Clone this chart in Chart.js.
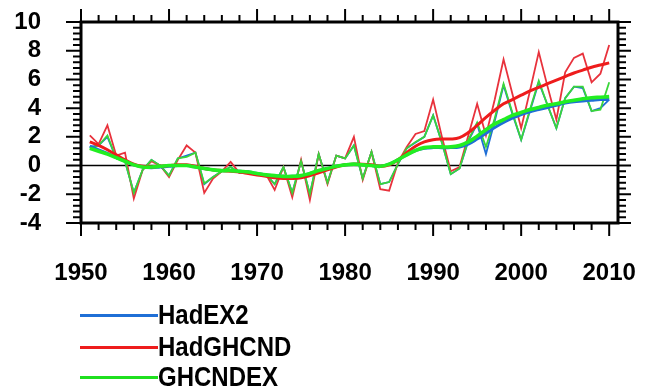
<!DOCTYPE html>
<html>
<head>
<meta charset="utf-8">
<script src="https://cdn.jsdelivr.net/npm/chart.js@4.4.1/dist/chart.umd.min.js"></script>
<style>
  html, body { margin: 0; padding: 0; background: #fff; }
  #wrap { position: relative; width: 658px; height: 389px; overflow: hidden; }
  #legend { position: absolute; left: 80px; top: 300px; font: bold 24px 'Liberation Sans', Arial, sans-serif; color: #000; }
  .item { position: absolute; left: 0; height: 30px; white-space: nowrap; }
  .item .swatch { position: absolute; left: 0; width: 78px; height: 2.5px; }
  .item .name { position: absolute; left: 78px; top: 0; line-height: 30px; transform: scaleY(1.15); transform-origin: left center; }
</style>
</head>
<body>
<div id="wrap">
  <canvas id="chart" width="658" height="389"></canvas>
  <div id="legend"></div>
</div>
<script>
const years = [1951, 1952, 1953, 1954, 1955, 1956, 1957, 1958, 1959, 1960,
               1961, 1962, 1963, 1964, 1965, 1966, 1967, 1968, 1969, 1970,
               1971, 1972, 1973, 1974, 1975, 1976, 1977, 1978, 1979, 1980,
               1981, 1982, 1983, 1984, 1985, 1986, 1987, 1988, 1989, 1990,
               1991, 1992, 1993, 1994, 1995, 1996, 1997, 1998, 1999, 2000,
               2001, 2002, 2003, 2004, 2005, 2006, 2007, 2008, 2009, 2010];

const hadex2 = [1.3, 1.4, 2.0, 0.5, 0.3, -1.9, -0.3, 0.4, 0.0, -0.7,
                0.5, 0.7, 0.9, -1.3, -0.8, -0.4, -0.1, -0.5, -0.4, -0.6,
                -0.6, -1.3, -0.1, -1.9, 0.3, -2.0, 0.8, -1.2, 0.7, 0.5,
                1.4, -0.9, 0.95, -1.3, -1.15, 0.1, 1.2, 1.6, 2.0, 3.5,
                1.6, -0.6, -0.2, 1.7, 2.9, 0.8, 3.1, 5.6, 3.6, 1.8,
                3.8, 5.8, 4.2, 2.6, 4.7, 5.5, 5.4, 3.8, 4.0, 4.6];

const hadghcnd = [2.1, 1.5, 2.8, 0.7, 0.9, -2.3, -0.3, 0.3, 0.0, -0.8,
                  0.4, 1.4, 0.9, -1.9, -0.9, -0.4, 0.25, -0.5, -0.5, -0.6,
                  -0.6, -1.7, -0.1, -2.2, 0.4, -2.4, 0.8, -1.3, 0.7, 0.5,
                  2.0, -1.0, 0.95, -1.65, -1.75, 0.2, 1.3, 2.2, 2.4, 4.6,
                  2.0, -0.4, -0.1, 2.1, 4.3, 2.1, 4.6, 7.4, 5.0, 2.6,
                  5.2, 7.9, 5.5, 3.2, 6.5, 7.5, 7.8, 5.8, 6.4, 8.4];

const ghcndex = [1.2, 1.4, 2.1, 0.5, 0.3, -1.9, -0.3, 0.4, 0.0, -0.7,
                 0.5, 0.6, 0.9, -1.25, -0.8, -0.4, -0.1, -0.5, -0.4, -0.6,
                 -0.6, -1.3, -0.1, -1.9, 0.3, -2.0, 0.8, -1.2, 0.7, 0.5,
                 1.4, -0.9, 0.95, -1.3, -1.15, 0.1, 1.2, 1.65, 2.0, 3.5,
                 1.6, -0.6, -0.2, 1.8, 3.0, 1.3, 3.3, 5.7, 3.7, 1.8,
                 3.9, 5.9, 4.2, 2.6, 4.7, 5.5, 5.5, 3.8, 3.9, 5.8];

// smoothed curves
const hadex2Smooth = [1.35, 1.1, 0.85, 0.55, 0.3, 0.05, -0.1, -0.15, -0.1, -0.05,
                      0.0, 0.0, -0.1, -0.2, -0.3, -0.35, -0.35, -0.4, -0.45, -0.55,
                      -0.65, -0.7, -0.75, -0.75, -0.7, -0.55, -0.35, -0.2, -0.05, 0.05,
                      0.1, 0.05, 0.0, -0.05, 0.1, 0.4, 0.75, 1.05, 1.2, 1.25,
                      1.25, 1.25, 1.3, 1.5, 1.85, 2.25, 2.65, 3.0, 3.3, 3.55,
                      3.75, 3.9, 4.05, 4.2, 4.35, 4.45, 4.5, 4.55, 4.6, 4.6];

const hadghcndSmooth = [1.65, 1.4, 1.1, 0.75, 0.4, 0.1, -0.05, -0.1, -0.05, 0.0,
                        0.05, 0.05, -0.05, -0.2, -0.3, -0.35, -0.4, -0.45, -0.55, -0.65,
                        -0.75, -0.85, -0.9, -0.9, -0.85, -0.7, -0.5, -0.3, -0.1, 0.05,
                        0.1, 0.1, 0.05, -0.05, 0.05, 0.4, 0.9, 1.35, 1.65, 1.8,
                        1.85, 1.85, 1.95, 2.3, 2.8, 3.35, 3.85, 4.3, 4.6, 4.9,
                        5.2, 5.45, 5.7, 5.95, 6.2, 6.45, 6.65, 6.85, 7.0, 7.15];

const ghcndexSmooth = [1.2, 1.0, 0.8, 0.55, 0.3, 0.05, -0.1, -0.1, -0.05, 0.0,
                       0.0, 0.0, -0.1, -0.2, -0.3, -0.35, -0.35, -0.4, -0.45, -0.55,
                       -0.65, -0.7, -0.75, -0.75, -0.7, -0.55, -0.35, -0.2, -0.05, 0.05,
                       0.1, 0.05, 0.0, -0.05, 0.1, 0.4, 0.75, 1.05, 1.25, 1.3,
                       1.3, 1.3, 1.4, 1.65, 2.05, 2.5, 2.9, 3.2, 3.5, 3.7,
                       3.9, 4.05, 4.2, 4.3, 4.45, 4.55, 4.65, 4.72, 4.76, 4.8];

const seriesNames = ['HadEX2', 'HadGHCND', 'GHCNDEX'];
const seriesColors = ['#1f6fd6', '#ee1c1c', '#1fe01f'];

const xTickValues = [1950, 1960, 1970, 1980, 1990, 2000, 2010];
const yTickValues = [-4, -2, 0, 2, 4, 6, 8, 10];

const tickFont = { family: "'Liberation Sans', Arial, sans-serif", size: 24, weight: 'bold' };

function pairs(vals) {
    return years.map((yr, i) => ({ x: yr, y: vals[i] }));
}

// lower order = drawn on top
function annual(label, vals, color, order) {
    return { label: label, data: pairs(vals), borderColor: color, borderWidth: 1.8,
             pointRadius: 0, tension: 0, fill: false, order: order };
}

function smooth(label, vals, color, width, order) {
    return { label: label, data: pairs(vals), borderColor: color, borderWidth: width,
             pointRadius: 0, tension: 0.4, fill: false, order: order };
}

// NCL style frame: thick box, outward major/minor ticks on all sides, zero line
const framePlugin = {
    id: 'frame',
    beforeDatasetsDraw(chart) {
        const { ctx, chartArea: a, scales } = chart;
        const y0 = scales.y.getPixelForValue(0);
        ctx.save();
        ctx.strokeStyle = '#000';
        ctx.lineWidth = 1.5;
        ctx.beginPath();
        ctx.moveTo(a.left, y0);
        ctx.lineTo(a.right, y0);
        ctx.stroke();
        ctx.restore();
    },
    afterDraw(chart) {
        const { ctx, chartArea: a, scales } = chart;
        const xs = scales.x, ys = scales.y;
        ctx.save();
        ctx.strokeStyle = '#000';
        ctx.lineWidth = 2;
        ctx.beginPath();
        for (let v = 1950; v <= 2011; v += 2) {
            const px = xs.getPixelForValue(v);
            const len = (v % 10 === 0) ? 13 : 7;
            ctx.moveTo(px, a.bottom); ctx.lineTo(px, a.bottom + len);
            ctx.moveTo(px, a.top); ctx.lineTo(px, a.top - len);
        }
        for (let k = 0; k <= 35; k++) {
            const v = -4 + k * 0.4;
            const py = ys.getPixelForValue(v);
            const major = k % 5 === 0;
            ctx.moveTo(a.left, py); ctx.lineTo(a.left - (major ? 15 : 8), py);
            ctx.moveTo(a.right, py); ctx.lineTo(a.right + (major ? 13 : 8), py);
        }
        ctx.stroke();
        ctx.lineWidth = 3;
        ctx.strokeRect(a.left, a.top, a.right - a.left, a.bottom - a.top);
        ctx.restore();
    }
};

const ctx = document.getElementById('chart').getContext('2d');
new Chart(ctx, {
    type: 'line',
    data: {
        datasets: [
            annual(seriesNames[0], hadex2, seriesColors[0], 5),
            annual(seriesNames[1], hadghcnd, '#e8323c', 4),
            annual(seriesNames[2], ghcndex, '#3ad63a', 3),
            smooth(seriesNames[0], hadex2Smooth, seriesColors[0], 3, 2),
            smooth(seriesNames[1], hadghcndSmooth, seriesColors[1], 3, 1),
            smooth(seriesNames[2], ghcndexSmooth, '#22ee22', 3.6, 0)
        ]
    },
    options: {
        responsive: false,
        animation: false,
        devicePixelRatio: 1,
        layout: { padding: { top: 22, right: 40, left: 0, bottom: 0 } },
        plugins: { legend: { display: false }, tooltip: { enabled: false } },
        scales: {
            x: {
                type: 'linear', position: 'bottom', min: 1950, max: 2011,
                grid: { display: false }, border: { display: false },
                afterBuildTicks: s => { s.ticks = xTickValues.map(v => ({ value: v })); },
                afterFit: s => { s.height = 389 - 223; s.paddingLeft = 0; s.paddingRight = 0; },
                ticks: { font: tickFont, color: '#000', padding: 28, maxRotation: 0,
                         autoSkip: false, callback: v => String(v) }
            },
            y: {
                type: 'linear', position: 'left', min: -4, max: 10,
                grid: { display: false }, border: { display: false },
                afterBuildTicks: s => { s.ticks = yTickValues.map(v => ({ value: v })); },
                // labels stay where they are; don't let their padding push the plot down
                afterFit: s => { s.width = 81; s.paddingTop = 0; s.paddingBottom = 0; },
                ticks: { font: tickFont, color: '#000', padding: 32, autoSkip: false }
            }
        }
    },
    plugins: [framePlugin]
});

// legend below the plot, one line per series
const legendTops = [0, 32, 62];
const legendEl = document.getElementById('legend');
seriesNames.forEach((name, i) => {
    const item = document.createElement('div');
    item.className = 'item';
    item.style.top = legendTops[i] + 'px';
    item.innerHTML = '<span class="swatch" style="top:14px;background:' + seriesColors[i] +
                     '"></span><span class="name">' + name + '</span>';
    legendEl.appendChild(item);
});
</script>
</body>
</html>
